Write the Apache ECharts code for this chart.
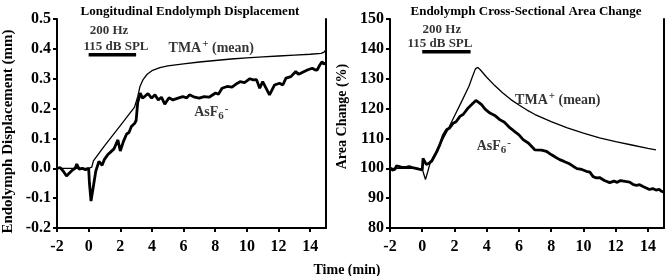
<!DOCTYPE html>
<html><head><meta charset="utf-8">
<script src="https://cdn.jsdelivr.net/npm/echarts@6/dist/echarts.min.js"></script>
<style>html,body{margin:0;padding:0;background:#fff}#c{width:666px;height:276px}</style>
</head><body><div id="c"></div>
<script>
// ---- data ----
const xTickValues = [-2, 0, 2, 4, 6, 8, 10, 12, 14];
const stimulusMin = [0, 3];
const dispStimLevel = 0.38;
const areaStimLevel = 139;

// Longitudinal endolymph displacement (mm) — TMA+ (mean)
const dispTMA = [[-2,0],[-1,0],[0,0],[0.2,0.004],[0.3,0.025],[1,0.075],[2,0.143],[2.9,0.205],[3.1,0.24],[3.25,0.275],[3.45,0.298],[3.7,0.315],[4,0.327],[4.5,0.337],[5,0.343],[6,0.35],[7,0.356],[8,0.361],[9,0.366],[10,0.37],[11,0.373],[12,0.376],[13,0.379],[14,0.382],[14.7,0.385],[14.9,0.39],[15,0.398]];
// Longitudinal endolymph displacement (mm) — AsF6-
const dispAsF6 = [[-2,0],[-1.8,0.002],[-1.6,-0.01],[-1.4,-0.026],[-1.2,-0.015],[-1,-0.005],[-0.85,0],[-0.75,0.014],[-0.6,-0.003],[-0.4,0],[-0.2,-0.005],[0,0],[0.05,-0.05],[0.15,-0.11],[0.3,-0.06],[0.45,-0.01],[0.65,0.023],[0.85,0.01],[1,0.03],[1.2,0.045],[1.4,0.055],[1.6,0.065],[1.85,0.095],[2,0.058],[2.2,0.09],[2.4,0.115],[2.55,0.12],[2.7,0.14],[2.9,0.15],[3,0.16],[3.1,0.22],[3.26,0.252],[3.4,0.235],[3.57,0.242],[3.75,0.25],[3.98,0.235],[4.19,0.246],[4.4,0.229],[4.6,0.238],[4.81,0.215],[5.08,0.236],[5.33,0.229],[5.6,0.234],[5.95,0.24],[6.2,0.236],[6.37,0.246],[6.7,0.238],[6.99,0.235],[7.3,0.24],[7.61,0.238],[8.02,0.252],[8.2,0.248],[8.43,0.268],[8.75,0.274],[9.06,0.272],[9.16,0.266],[9.4,0.285],[9.57,0.29],[9.85,0.287],[10.19,0.3],[10.4,0.296],[10.61,0.297],[10.81,0.268],[11,0.29],[11.12,0.285],[11.43,0.246],[11.75,0.279],[12.06,0.285],[12.27,0.279],[12.47,0.302],[12.78,0.307],[13.09,0.324],[13.25,0.315],[13.4,0.318],[13.82,0.329],[14.13,0.335],[14.3,0.33],[14.44,0.329],[14.6,0.345],[14.75,0.357],[14.85,0.35],[15,0.352]];
// Endolymph cross-sectional area change (%) — TMA+ (mean)
const areaTMA = [[-2,100],[-1,100],[-0.5,100],[0,99.8],[0.1,98],[0.2,96.2],[0.35,99],[0.5,102],[1,107],[1.5,112],[2,117.5],[2.5,123],[2.9,127.5],[3.1,130.5],[3.3,133.3],[3.45,133.8],[3.6,133],[4,130.5],[4.5,127.7],[5,125.2],[5.5,123],[6,121.2],[6.5,119.5],[7,118],[7.5,116.8],[8,115.6],[9,113.5],[10,111.8],[11,110.2],[12,108.9],[13,107.8],[14,106.7],[14.5,106.2]];
// Endolymph cross-sectional area change (%) — AsF6-
const areaAsF6 = [[-2,100.2],[-1.85,99.4],[-1.7,99.6],[-1.6,100.8],[-1.3,100.4],[-1,100.3],[-0.8,100.6],[-0.6,100.2],[-0.4,100],[-0.2,99.7],[0,99.5],[0.05,103.3],[0.25,101.3],[0.45,101.8],[0.6,102.5],[0.9,105.5],[1.1,108],[1.3,111],[1.51,112.9],[1.7,113.5],[1.92,115.1],[2.1,115.6],[2.34,117.4],[2.55,118.1],[2.85,120.2],[3.1,121.5],[3.33,122.7],[3.5,122.1],[3.68,121.3],[3.9,119.8],[4.2,118.5],[4.5,117.7],[4.81,116.3],[5.1,115.4],[5.43,113.6],[5.8,112],[6,111.2],[6.26,109.6],[6.6,108.4],[6.98,106.2],[7.1,106.8],[7.4,106.1],[7.7,105.7],[8,104.6],[8.3,103.6],[8.53,102.9],[8.8,102.3],[9.1,101.6],[9.36,100.7],[9.6,99.9],[9.9,99.6],[10.18,99],[10.4,98.7],[10.6,97.2],[10.8,96.8],[11,96.9],[11.3,95.9],[11.63,95.2],[11.9,95.7],[12.1,95.3],[12.3,95.9],[12.6,95.6],[12.87,95.4],[13.1,94.5],[13.3,94.3],[13.49,94.5],[13.7,93.9],[13.9,93.4],[14.1,92.9],[14.3,93.2],[14.5,92.7],[14.7,92.9],[14.85,92.3],[15,92]];

// annotation texts (data coordinates)
const dispNotes = [[1.29,0.46,'200 Hz'],[1.73,0.406,'115 dB SPL'],[7.75,0.403,'TMA{sup|+} (mean)'],[7.75,0.186,'AsF{sub|6}{sup|-}']];
const areaNotes = [[1.22,146.3,'200 Hz'],[1.1,141.6,'115 dB SPL'],[8.41,122.9,'TMA{sup|+} (mean)'],[4.44,107.2,'AsF{sub|6}{sup|-}']];

// ---- chart ----
const FONT = 'Liberation Serif';
const chart = echarts.init(document.getElementById('c'), null, {renderer: 'canvas'});

function xAxisCfg(gi) {
  return {
    type: 'value', gridIndex: gi, min: -2, max: 15, interval: 2,
    axisLine: {show: true, onZero: false, lineStyle: {color: '#000', width: 2}},
    axisTick: {show: true, inside: false, length: 4, customValues: xTickValues, lineStyle: {color: '#000', width: 2}},
    axisLabel: {customValues: xTickValues, margin: 11, fontFamily: FONT, fontWeight: 'bold', fontSize: 16, color: '#000'},
    splitLine: {show: false}
  };
}
function yAxisCfg(gi, min, max, interval, fmt, name, fontSize, pad) {
  return {
    type: 'value', gridIndex: gi, min: min, max: max, interval: interval, position: 'left',
    name: name, nameLocation: 'middle', nameGap: 41, nameRotate: 90,
    nameTextStyle: {fontFamily: FONT, fontWeight: 'bold', fontSize: fontSize, color: '#000', padding: pad},
    axisLine: {show: true, onZero: false, lineStyle: {color: '#000', width: 2}},
    axisTick: {show: true, inside: false, length: 4, lineStyle: {color: '#000', width: 2}},
    axisLabel: {formatter: fmt, margin: 6, fontFamily: FONT, fontWeight: 'bold', fontSize: 16, color: '#000'},
    splitLine: {show: false}
  };
}
function borderAxis(gi, min, max) {
  return {
    type: 'value', gridIndex: gi, min: min, max: max, position: 'right',
    axisLine: {show: true, onZero: false, lineStyle: {color: '#000', width: 2}},
    axisTick: {show: false}, axisLabel: {show: false}, splitLine: {show: false}
  };
}
const rich = {
  sup: {fontFamily: FONT, fontWeight: 'bold', fontSize: 11, verticalAlign: 'top', lineHeight: 18, padding: [0,0,8,1]},
  sub: {fontFamily: FONT, fontWeight: 'bold', fontSize: 11, verticalAlign: 'bottom', lineHeight: 18, padding: [6,0,0,0]}
};
function notesSeries(notes, xi, yi) {
  return {
    type: 'scatter', xAxisIndex: xi, yAxisIndex: yi, symbolSize: 1, silent: true,
    itemStyle: {color: 'rgba(0,0,0,0)'},
    data: notes.map(n => ({value: [n[0], n[1]], label: {formatter: n[2], fontSize: n[2].length > 12 ? 14 : 13}})),
    label: {show: true, position: 'inside', fontFamily: FONT, fontWeight: 'bold', fontSize: 13, color: '#000', rich: rich}
  };
}
function lineSeries(data, xi, yi, w) {
  return {type: 'line', xAxisIndex: xi, yAxisIndex: yi, data: data, showSymbol: false, symbol: 'none',
    lineStyle: {color: '#000', width: w}, silent: true, animation: false};
}

chart.setOption({
  animation: false,
  textStyle: {fontFamily: FONT, fontWeight: 'bold', color: '#000'},
  grid: [
    {left: 52, top: 19, width: 274, height: 209},
    {left: 390, top: 19, width: 274, height: 209}
  ],
  xAxis: [xAxisCfg(0), xAxisCfg(1)],
  yAxis: [
    yAxisCfg(0, -0.2, 0.5, 0.1, v => v.toFixed(1), 'Endolymph Displacement (mm)', 15, [0, 16, 0, 0]),
    borderAxis(0, -0.2, 0.5),
    yAxisCfg(1, 80, 150, 10, v => String(v), 'Area Change (%)', 14, [0, 0, 0, 14]),
    borderAxis(1, 80, 150)
  ],
  title: [
    {text: 'Longitudinal Endolymph Displacement', left: 185, top: 0, textAlign: 'center',
      textStyle: {fontFamily: FONT, fontWeight: 'bold', fontSize: 13, color: '#000'}},
    {text: 'Endolymph Cross-Sectional Area Change', left: 521, top: 0, textAlign: 'center',
      textStyle: {fontFamily: FONT, fontWeight: 'bold', fontSize: 13, color: '#000'}},
    {text: 'Time (min)', left: 342, top: 258, textAlign: 'center',
      textStyle: {fontFamily: FONT, fontWeight: 'bold', fontSize: 14, color: '#000'}}
  ],
  series: [
    lineSeries(dispTMA, 0, 0, 1.3),
    lineSeries(dispAsF6, 0, 0, 2.8),
    lineSeries(stimulusMin.map(t => [t, dispStimLevel]), 0, 0, 3.5),
    notesSeries(dispNotes, 0, 0),
    lineSeries(areaTMA, 1, 2, 1.3),
    lineSeries(areaAsF6, 1, 2, 2.8),
    lineSeries(stimulusMin.map(t => [t, areaStimLevel]), 1, 2, 3.5),
    notesSeries(areaNotes, 1, 2)
  ]
});
</script></body></html>
